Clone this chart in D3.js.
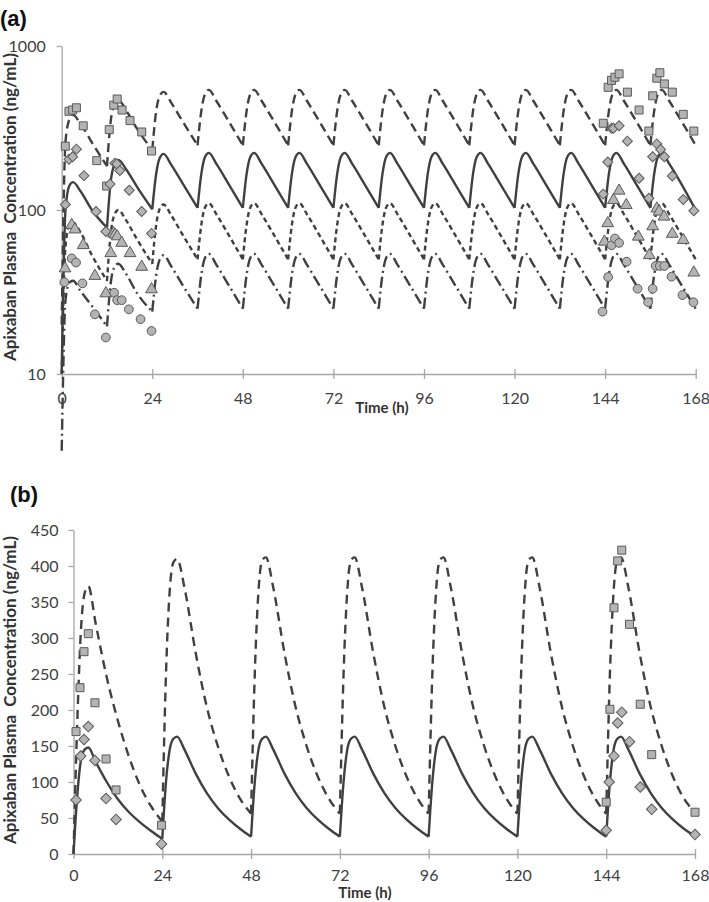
<!DOCTYPE html>
<html><head><meta charset="utf-8">
<script src="https://cdn.jsdelivr.net/npm/d3@7"></script>
<style>body{margin:0;background:#fff}svg{display:block}text{white-space:pre}</style>
</head><body>
<svg id="c" width="709" height="902"></svg>
<script>
// ---------- Panel (a): twice-daily dosing, log scale ----------
const timesA = [0,1,2,3,5,8,
12,13,14,15,17,20,
24,25,26,27,29,32,
36,37,38,39,41,44,
48,49,50,51,53,56,
60,61,62,63,65,68,
72,73,74,75,77,80,
84,85,86,87,89,92,
96,97,98,99,101,104,
108,109,110,111,113,116,
120,121,122,123,125,128,
132,133,134,135,137,140,
144,145,146,147,149,152,
156,157,158,159,161,164,
168];
const upperA = [20,260,355,380,335,258,
185,350,445,470,408,312,
232,395,498,525,452,348,
248,402,511,540,462,355,
248,402,511,540,462,355,
248,402,511,540,462,355,
248,402,511,540,462,355,
248,402,511,540,462,355,
248,402,511,540,462,355,
248,402,511,540,462,355,
248,402,511,540,462,355,
248,402,511,540,462,355,
248,402,511,540,462,355,
248,402,511,540,462,355,
248];
const medianA = [10,100,140,148,130,100,
78,150,190,202,178,138,
101,164,208,220,189,146,
103,166,211,223,191,147,
103,166,211,223,191,147,
103,166,211,223,191,147,
103,166,211,223,191,147,
103,166,211,223,191,147,
103,166,211,223,191,147,
103,166,211,223,191,147,
103,166,211,223,191,147,
103,166,211,223,191,147,
103,166,211,223,191,147,
103,166,211,223,191,147,
100];
const lowerA = [10,60,80,84,73,53,
37,72,94,100,87,66,
47,80,102,108,93,71,
50,81.5,104,110,94,72,
50,81.5,104,110,94,72,
50,81.5,104,110,94,72,
50,81.5,104,110,94,72,
50,81.5,104,110,94,72,
50,81.5,104,110,94,72,
50,81.5,104,110,94,72,
50,81.5,104,110,94,72,
50,81.5,104,110,94,72,
50,81.5,104,110,94,72,
50,81.5,104,110,94,72,
50];
const lowestA = [3.4,28,36,37,32,26,
19.5,36,45,47,41,31,
24,39.5,50,53,45.5,35,
25,40.3,51.2,54,46.3,35.6,
25,40.3,51.2,54,46.3,35.6,
25,40.3,51.2,54,46.3,35.6,
25,40.3,51.2,54,46.3,35.6,
25,40.3,51.2,54,46.3,35.6,
25,40.3,51.2,54,46.3,35.6,
25,40.3,51.2,54,46.3,35.6,
25,40.3,51.2,54,46.3,35.6,
25,40.3,51.2,54,46.3,35.6,
25,40.3,51.2,54,46.3,35.6,
25,40.3,51.2,54,46.3,35.6,
25];

// observed points, panel (a): [time, conc]
const squaresA = [[0.96,245],[1.93,400],[2.9,407],[3.9,420],[5.7,326],[9.3,200],[11.9,140],[12.6,309],[13.8,436],[14.7,475],[16,407],[18.1,351],[21.2,299],[23.8,229],
[143.5,338],[144.8,560],[145.7,617],[146.6,645],[147.7,676],[149.9,523],[153,407],[155.6,303],[156.6,497],[157.7,636],[158.5,687],[159.7,587],[161.8,523],[164.7,383],[167.5,303]];
const diamondsA = [[0.96,108],[1.93,204],[2.9,211],[3.9,235],[5.9,162],[9.1,98],[11.7,74],[12.8,144],[14.1,193],[14.6,191],[15.4,174],[17.9,132],[21.2,98],[23.8,72],
[143.5,125],[144.7,196],[145.7,315],[146.2,315],[147.7,326],[149.9,263],[153,156],[155.6,118],[156.6,211],[157.7,253],[158.7,234],[159.7,211],[161.8,161],[164.7,116],[167.5,99]];
const trianglesA = [[0.88,44],[2.65,81],[3.5,76],[5.7,61],[8.8,39.6],[11.7,31],[13,54.5],[13.7,72],[14.1,70.8],[14.7,69],[15.9,63],[18.1,54.5],[21.2,45],[23.8,32.8],
[143.8,64],[144.7,83],[146.2,115],[147.7,131],[149.6,107],[152.8,68.7],[155.7,53],[156.6,79.5],[157.7,102],[158.3,97.7],[159.6,91],[161.8,71.5],[164.7,65.6],[167.5,41.5]];
const circlesA = [[0.7,36.3],[2.65,50.7],[3.8,47.8],[5.5,35.7],[8.8,23.1],[11.7,16.7],[13.9,31.3],[14.7,28.2],[15.9,28.2],[17.8,24.8],[20.9,21.6],[23.8,18.3],
[143.3,24],[144.8,39],[145.7,61],[146.6,67],[147.7,63],[149.7,48.4],[152.6,33.1],[155.4,27.4],[156.6,33.1],[157.4,45.6],[158.5,45.6],[159.7,45.6],[161.6,39.2],[164.5,30.3],[167.4,27.4]];

const xTicksA = [0,24,48,72,96,120,144,168];
const yTicksA = [10,100,1000];

// ---------- Panel (b): once-daily dosing, linear scale ----------
const timesB = [0,1,2,3,4,6,9,12,15,18,21,
24,25,26,27,28,30,33,36,39,42,45,
48,49,50,51,52,54,57,60,63,66,69,
72,73,74,75,76,78,81,84,87,90,93,
96,97,98,99,100,102,105,108,111,114,117,
120,121,122,123,124,126,129,132,135,138,141,
144,145,146,147,148,150,153,156,159,162,165,
168];
const upperB = [0,180,310,362,372,320,245,185,135,95,66,
45,250,365,405,410,370,280,205,150,108,77,
56,250,365,408,412,370,280,205,150,108,77,
56,250,365,408,412,370,280,205,150,108,77,
56,250,365,408,412,370,280,205,150,108,77,
56,250,365,408,412,370,280,205,150,108,77,
56,250,365,408,412,370,280,205,150,108,77,
58];
const medianB = [0,80,130,145,148,128,100,76,58,44,32,
21,100,145,160,163,145,112,85,64,48,35,
24,100,145,160,163,145,112,85,64,48,35,
24,100,145,160,163,145,112,85,64,48,35,
24,100,145,160,163,145,112,85,64,48,35,
24,100,145,160,163,145,112,85,64,48,35,
24,100,145,160,163,145,112,85,64,48,35,
25];
const squaresB = [[0.68,170],[1.76,231],[2.84,281],[4.0,306],[5.8,210],[8.8,132],[11.5,89],[23.8,40],
[144,72],[145,201],[146.1,342],[147.1,407],[148.2,422],[150.3,319],[153.2,208],[156.3,138],[168,58]];
const diamondsB = [[0.68,75],[1.95,136],[2.84,159],[4.0,177],[5.8,130],[8.8,77],[11.5,48],[23.8,14],
[144,33],[144.8,100],[146.1,136],[147.1,182],[148.2,197],[150.3,156],[153.2,93],[156.3,62],[168,27]];
const xTicksB = [0,24,48,72,96,120,144,168];
const yTicksB = [0,50,100,150,200,250,300,350,400,450];

// ---------- drawing ----------
const svg = d3.select("#c");
const FONT = "Lato, 'Open Sans', 'Liberation Sans', sans-serif";
const AXC = "#a6a6a6", TXT = "#404040", LINE = "#404040";
const MFILL = "#b4b4b4", MSTROKE = "#5a5a5a";

function axes(g, x, y, xt, yt, yfmt, xpad, ypad) {
  const ax = g.append("g").attr("transform", `translate(0,${y.range()[0]})`)
    .call(d3.axisBottom(x).tickValues(xt).tickSizeInner(5).tickSizeOuter(0).tickPadding(xpad));
  ax.selectAll("line").attr("y1", -5).attr("y2", 5);
  const ay = g.append("g").attr("transform", `translate(${x.range()[0]},0)`)
    .call(d3.axisLeft(y).tickValues(yt).tickFormat(yfmt).tickSizeInner(5).tickSizeOuter(0).tickPadding(ypad));
  [ax, ay].forEach(a => {
    a.select(".domain").attr("stroke", AXC).attr("stroke-width", 1.3);
    a.selectAll(".tick line").attr("stroke", AXC).attr("stroke-width", 1.3);
    a.selectAll("text").attr("fill", TXT).style("font-family", FONT).style("font-size", "16px");
  });
}

function drawCurve(g, x, y, times, vals, period, dash) {
  const pts = times.map((t, i) => [t, vals[i]]);
  // split at dose times so troughs stay sharp
  const segs = [];
  let cur = [];
  pts.forEach((p, i) => {
    cur.push(p);
    if (i > 0 && p[0] % period === 0) { segs.push(cur); cur = [p]; }
  });
  if (cur.length > 1) segs.push(cur);
  const line = d3.line().x(d => x(d[0])).y(d => y(d[1])).curve(d3.curveMonotoneX);
  const path = segs.map(s => line(s)).join("");
  g.append("path").attr("d", path).attr("fill", "none").attr("stroke", LINE)
    .attr("stroke-width", 2.4).attr("stroke-dasharray", dash).attr("stroke-linejoin", "round");
}

function drawMarkers(g, x, y, data, type, size, rot) {
  const sym = d3.symbol().type(type).size(size);
  g.selectAll(null).data(data).enter().append("path")
    .attr("d", sym)
    .attr("transform", d => `translate(${x(d[0])},${y(d[1])})` + (rot ? ` rotate(${rot})` : ""))
    .attr("fill", MFILL).attr("stroke", MSTROKE).attr("stroke-width", 1);
}

function titles(g, label, lx, ly, xmid, xtitleY, ymid) {
  g.append("text").attr("x", lx).attr("y", ly).text(label)
    .style("font-family", "'Liberation Sans', Arial, sans-serif").style("font-weight", "bold").style("font-size", "22px").attr("fill", "#111");
  g.append("text").attr("x", xmid).attr("y", xtitleY).attr("text-anchor", "middle").text("Time (h)")
    .style("font-family", FONT).style("font-weight", "bold").style("font-size", "15px").attr("fill", "#333");
  g.append("text").attr("transform", `translate(15.5,${ymid}) rotate(-90)`).attr("text-anchor", "middle")
    .text("Apixaban Plasma  Concentration (ng/mL)")
    .style("font-family", FONT).style("font-weight", "bold").style("font-size", "17px").attr("fill", "#333");
}

// Panel (a)
const xa = d3.scaleLinear().domain([0, 168]).range([61.7, 695.7]);
const ya = d3.scaleLog().domain([10, 1000]).range([374, 46]);
const ga = svg.append("g");
axes(ga, xa, ya, xTicksA, yTicksA, d3.format("d"), 14, 11);
drawCurve(ga, xa, ya, timesA, upperA, 12, "9,5");
drawCurve(ga, xa, ya, timesA, medianA, 12, null);
drawCurve(ga, xa, ya, timesA, lowerA, 12, "5,3.5");
drawCurve(ga, xa, ya, timesA, lowestA, 12, "11,4,2,4");
drawMarkers(ga, xa, ya, squaresA, d3.symbolSquare, 64, 0);
drawMarkers(ga, xa, ya, diamondsA, d3.symbolSquare, 50, 45);
drawMarkers(ga, xa, ya, trianglesA, d3.symbolTriangle, 60, 0);
drawMarkers(ga, xa, ya, circlesA, d3.symbolCircle, 60, 0);
titles(ga, "(a)", 0, 26, 382, 413, 207);

// Panel (b)
const xb = d3.scaleLinear().domain([0, 168]).range([73.5, 695]);
const yb = d3.scaleLinear().domain([0, 450]).range([854, 530]);
const gb = svg.append("g");
axes(gb, xb, yb, xTicksB, yTicksB, d3.format("d"), 11, 10);
drawCurve(gb, xb, yb, timesB, upperB, 24, "9,6");
drawCurve(gb, xb, yb, timesB, medianB, 24, null);
drawMarkers(gb, xb, yb, squaresB, d3.symbolSquare, 64, 0);
drawMarkers(gb, xb, yb, diamondsB, d3.symbolSquare, 56, 45);
titles(gb, "(b)", 10, 502, 365, 898, 690);
</script>
</body></html>
